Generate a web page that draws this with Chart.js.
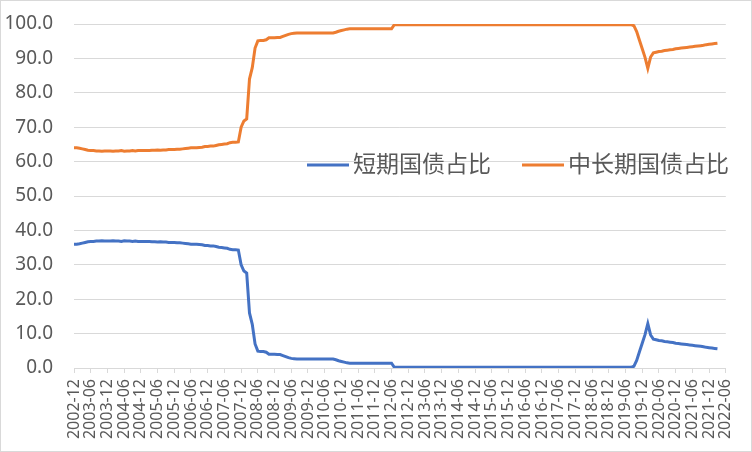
<!DOCTYPE html>
<html lang="zh-CN">
<head>
<meta charset="utf-8">
<title>短期国债与中长期国债占比</title>
<script src="https://cdn.jsdelivr.net/npm/chart.js@4.4.1/dist/chart.umd.min.js"></script>
<style>
  html, body { margin: 0; padding: 0; background: #fff; }
  #wrap {
    width: 750px;
    height: 450px;
    border: 1px solid #d9d9d9;
    position: relative;
  }
</style>
</head>
<body>
<div id="wrap"><canvas id="shareChart"></canvas></div>
<script>
// Monthly observations, first month 2002-12, last month 2022-03
const startYear = 2002;
const startMonth = 12;
const axisMonths = 235; // 2002-12 .. 2022-06

// 短期国债占比 (%)
const shortShare = [
  36.0, 36.0, 36.1, 36.3, 36.5, 36.7, 36.8, 36.8, 36.9, 36.9, 37.0, 36.9,
  36.9, 36.9, 37.0, 36.9, 36.9, 36.8, 37.0, 36.9, 36.9, 36.8, 36.9, 36.8,
  36.8, 36.8, 36.8, 36.8, 36.7, 36.7, 36.6, 36.7, 36.6, 36.6, 36.5, 36.5,
  36.5, 36.4, 36.4, 36.3, 36.2, 36.1, 36.0, 36.0, 36.0, 35.9, 35.8, 35.6,
  35.6, 35.5, 35.5, 35.3, 35.1, 35.0, 34.9, 34.8, 34.5, 34.4, 34.4, 34.3,
  30.0, 28.2, 27.6, 16.0, 12.7, 7.0, 4.9, 4.8, 4.8, 4.6, 4.0, 4.0,
  4.0, 3.9, 3.9, 3.6, 3.3, 3.0, 2.8, 2.7, 2.6, 2.6, 2.6, 2.6,
  2.6, 2.6, 2.6, 2.6, 2.6, 2.6, 2.6, 2.6, 2.6, 2.6, 2.4, 2.1,
  1.9, 1.7, 1.5, 1.4, 1.4, 1.4, 1.4, 1.4, 1.4, 1.4, 1.4, 1.4,
  1.4, 1.4, 1.4, 1.4, 1.4, 1.4, 1.4, 0.2, 0.2, 0.2, 0.2, 0.2,
  0.2, 0.2, 0.2, 0.2, 0.2, 0.2, 0.2, 0.2, 0.2, 0.2, 0.2, 0.2,
  0.2, 0.2, 0.2, 0.2, 0.2, 0.2, 0.2, 0.2, 0.2, 0.2, 0.2, 0.2,
  0.2, 0.2, 0.2, 0.2, 0.2, 0.2, 0.2, 0.2, 0.2, 0.2, 0.2, 0.2,
  0.2, 0.2, 0.2, 0.2, 0.2, 0.2, 0.2, 0.2, 0.2, 0.2, 0.2, 0.2,
  0.2, 0.2, 0.2, 0.2, 0.2, 0.2, 0.2, 0.2, 0.2, 0.2, 0.2, 0.2,
  0.2, 0.2, 0.2, 0.2, 0.2, 0.2, 0.2, 0.2, 0.2, 0.2, 0.2, 0.2,
  0.2, 0.2, 0.2, 0.2, 0.2, 0.2, 0.2, 0.2, 0.2, 0.5, 2.2, 4.7,
  7.2, 9.7, 12.9, 9.6, 8.4, 8.2, 8.0, 7.9, 7.7, 7.6, 7.5, 7.4,
  7.2, 7.1, 7.0, 6.9, 6.8, 6.7, 6.6, 6.5, 6.4, 6.3, 6.2, 6.0,
  5.9, 5.8, 5.7, 5.6
];

// 中长期国债占比 (%)
const longShare = [
  64.0, 64.0, 63.9, 63.7, 63.5, 63.3, 63.2, 63.2, 63.1, 63.1, 63.0, 63.1,
  63.1, 63.1, 63.0, 63.1, 63.1, 63.2, 63.0, 63.1, 63.1, 63.2, 63.1, 63.2,
  63.2, 63.2, 63.2, 63.2, 63.3, 63.3, 63.4, 63.3, 63.4, 63.4, 63.5, 63.5,
  63.5, 63.6, 63.6, 63.7, 63.8, 63.9, 64.0, 64.0, 64.0, 64.1, 64.2, 64.4,
  64.4, 64.5, 64.5, 64.7, 64.9, 65.0, 65.1, 65.2, 65.5, 65.6, 65.6, 65.7,
  70.0, 71.8, 72.4, 84.0, 87.3, 93.0, 95.1, 95.2, 95.2, 95.4, 96.0, 96.0,
  96.0, 96.1, 96.1, 96.4, 96.7, 97.0, 97.2, 97.3, 97.4, 97.4, 97.4, 97.4,
  97.4, 97.4, 97.4, 97.4, 97.4, 97.4, 97.4, 97.4, 97.4, 97.4, 97.6, 97.9,
  98.1, 98.3, 98.5, 98.6, 98.6, 98.6, 98.6, 98.6, 98.6, 98.6, 98.6, 98.6,
  98.6, 98.6, 98.6, 98.6, 98.6, 98.6, 98.6, 99.8, 99.8, 99.8, 99.8, 99.8,
  99.8, 99.8, 99.8, 99.8, 99.8, 99.8, 99.8, 99.8, 99.8, 99.8, 99.8, 99.8,
  99.8, 99.8, 99.8, 99.8, 99.8, 99.8, 99.8, 99.8, 99.8, 99.8, 99.8, 99.8,
  99.8, 99.8, 99.8, 99.8, 99.8, 99.8, 99.8, 99.8, 99.8, 99.8, 99.8, 99.8,
  99.8, 99.8, 99.8, 99.8, 99.8, 99.8, 99.8, 99.8, 99.8, 99.8, 99.8, 99.8,
  99.8, 99.8, 99.8, 99.8, 99.8, 99.8, 99.8, 99.8, 99.8, 99.8, 99.8, 99.8,
  99.8, 99.8, 99.8, 99.8, 99.8, 99.8, 99.8, 99.8, 99.8, 99.8, 99.8, 99.8,
  99.8, 99.8, 99.8, 99.8, 99.8, 99.8, 99.8, 99.8, 99.8, 99.5, 97.8, 95.3,
  92.8, 90.3, 87.1, 90.4, 91.6, 91.8, 92.0, 92.1, 92.3, 92.4, 92.5, 92.6,
  92.8, 92.9, 93.0, 93.1, 93.2, 93.3, 93.4, 93.5, 93.6, 93.7, 93.8, 94.0,
  94.1, 94.2, 94.3, 94.4
];

// y axis ticks 0.0 .. 100.0
const yMin = 0;
const yMax = 100;
const yStep = 10;

// month categories, one label shown every 6 months
const months = [];
for (let i = 0; i < axisMonths; i++) {
  const total = startYear * 12 + (startMonth - 1) + i;
  const y = Math.floor(total / 12);
  const m = total % 12 + 1;
  months.push(y + '-' + String(m).padStart(2, '0'));
}

// Legend drawn inside the plot, like the Excel original
const innerLegend = {
  id: 'innerLegend',
  afterDatasetsDraw(chart, args, opts) {
    const { ctx, chartArea } = chart;
    ctx.save();
    ctx.font = opts.font;
    ctx.textBaseline = 'middle';
    ctx.textAlign = 'left';
    let x = chartArea.left + opts.x;
    const y = chartArea.top + opts.y;
    chart.data.datasets.forEach(ds => {
      ctx.strokeStyle = ds.borderColor;
      ctx.lineWidth = ds.borderWidth;
      ctx.beginPath();
      ctx.moveTo(x, y);
      ctx.lineTo(x + opts.lineLength, y);
      ctx.stroke();
      x += opts.lineLength + opts.textGap;
      ctx.fillStyle = opts.color;
      ctx.fillText(ds.label, x, y + opts.textShift);
      x += ctx.measureText(ds.label).width + opts.itemGap;
    });
    ctx.restore();
  }
};

const gridColor = '#d9d9d9';
const textColor = '#595959';

new Chart(document.getElementById('shareChart'), {
  type: 'line',
  data: {
    labels: months,
    datasets: [{
      label: '短期国债占比',
      data: shortShare,
      borderColor: '#4472C4',
      backgroundColor: '#4472C4',
      borderWidth: 3,
      pointRadius: 0,
      tension: 0
    }, {
      label: '中长期国债占比',
      data: longShare,
      borderColor: '#ED7D31',
      backgroundColor: '#ED7D31',
      borderWidth: 3,
      pointRadius: 0,
      tension: 0
    }]
  },
  options: {
    responsive: true,
    maintainAspectRatio: false,
    animation: false,
    layout: {
      padding: { top: 23, right: 23, bottom: 0, left: 0 }
    },
    scales: {
      x: {
        offset: false,
        grid: {
          drawOnChartArea: false,
          drawTicks: true,
          tickLength: 5,
          color: gridColor
        },
        border: { color: gridColor, width: 1 },
        ticks: {
          autoSkip: false,
          minRotation: 90,
          maxRotation: 90,
          padding: 6,
          color: textColor,
          font: { family: 'Noto Sans', size: 16 },
          callback: function(value, index) {
            return index % 6 === 0 ? this.getLabelForValue(value) : null;
          }
        },
        afterFit: scale => { scale.height = 83; }
      },
      y: {
        min: yMin,
        max: yMax,
        grid: {
          color: gridColor,
          drawTicks: true,
          tickLength: 21,
          tickColor: 'rgba(0,0,0,0)'
        },
        border: { display: false },
        ticks: {
          stepSize: yStep,
          padding: 0,
          color: textColor,
          font: { family: 'Noto Sans', size: 19 },
          callback: value => value.toFixed(1)
        },
        afterFit: scale => { scale.width = 73; }
      }
    },
    plugins: {
      legend: { display: false },
      tooltip: { enabled: false },
      innerLegend: {
        x: 233,
        y: 141,
        lineLength: 42,
        textGap: 4,
        itemGap: 31,
        textShift: -2,
        color: textColor,
        font: '23px "Noto Sans CJK SC"'
      }
    }
  },
  plugins: [innerLegend]
});
</script>
</body>
</html>
